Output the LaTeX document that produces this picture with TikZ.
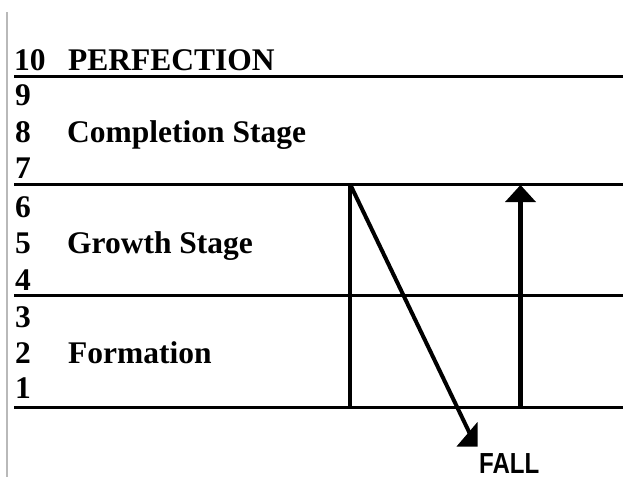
\documentclass[tikz,border=0pt]{standalone}
\usepackage{fontspec}
\setmainfont{Liberation Serif}
\newfontfamily\fallfont{Liberation Sans}
\begin{document}
\begin{tikzpicture}[x=1pt,y=-1pt,
  lbl/.style={anchor=base west,inner sep=0pt,font=\fontsize{31.5}{31.5}\selectfont\bfseries},
  rule/.style={line width=3pt},
  bar/.style={line width=3.5pt},
  tip/.style={fill=black,draw=none}]
\useasboundingbox (0,0) rectangle (623,477);
\draw[gray!55,line width=1.3pt] (7,12) -- (7,477);
% horizontal rules
\foreach \y/\n in {76.5/h10,184/h7,295/h4,407/h1}{
  \coordinate (\n a) at (14,\y);
  \coordinate (\n b) at (623,\y);
  \draw[rule] (\n a) -- (\n b);
}
% numbers
\foreach \t/\b in {9/105,8/142,7/178,6/217,5/253,4/290,3/327,2/363,1/398}{
  \node[lbl] (n\t) at (15,\b) {\t};
}
\node[lbl] (n10) at (14,70) {10};
\node[lbl] (perf) at (68,70) {PERFECTION};
\node[lbl] (comp) at (67,142) {Completion Stage};
\node[lbl] (grow) at (67,253) {Growth Stage};
\node[lbl] (form) at (68,363) {Formation};
% vertical line
\coordinate (v0) at (350,184);
\coordinate (v1) at (350,407);
\draw[bar] (v0) -- (v1);
% fall arrow
\coordinate (d1) at (471,436);
\draw[line width=4pt] (v0) -- (d1);
\fill[tip] (477.5,422) -- (477.5,446.5) -- (456.5,446.5) -- cycle;
% up arrow
\coordinate (u0) at (520.5,407);
\coordinate (u1) at (520.5,200);
\draw[line width=5pt] (u0) -- (u1);
\fill[tip] (520.5,185) -- (505,202) -- (536,202) -- cycle;
\node[anchor=base west,inner sep=0pt,font=\fontsize{29}{29}\fallfont\bfseries,xscale=0.83] (fall) at (479,473.5) {FALL};
\end{tikzpicture}
\end{document}
